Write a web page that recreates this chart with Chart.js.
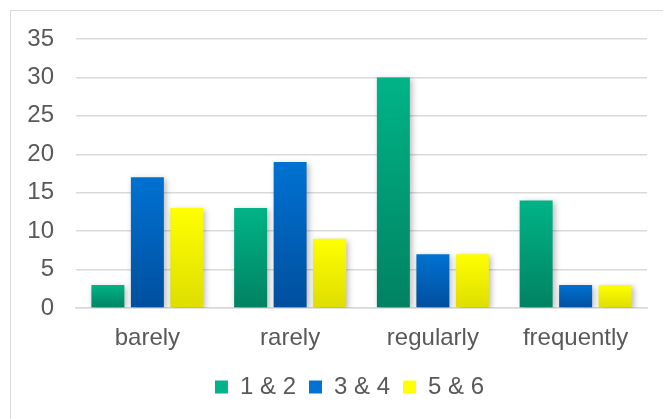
<!DOCTYPE html>
<html>
<head>
<meta charset="UTF-8">
<script src="https://cdn.jsdelivr.net/npm/chart.js@4"></script>
<style>
  html, body { margin: 0; padding: 0; background: #fff; overflow: hidden; }
  .frame { position: absolute; left: 10px; top: 10px; width: 700px; height: 500px; border: 1.5px solid #d9d9d9; }
  .wrap { position: absolute; left: 0; top: 0; width: 663px; height: 419px; }
</style>
</head>
<body>
<div class="frame"></div>
<div class="wrap"><canvas id="chart"></canvas></div>
<script>
// データ
const categories = ["barely", "rarely", "regularly", "frequently"];
const seriesNames = ["1 & 2", "3 & 4", "5 & 6"];
const values12 = [3, 13, 30, 14];
const values34 = [17, 19, 7, 3];
const values56 = [13, 9, 7, 3];
const yTicks = [0, 5, 10, 15, 20, 25, 30, 35];

// 色（上→下のグラデーション）
const colorPairs = [
  ["#00b487", "#008262"],
  ["#0072d2", "#004f9e"],
  ["#ffff00", "#dede00"],
];

function barGradient(pair) {
  return function (context) {
    const chart = context.chart;
    const y = chart.scales.y;
    if (!chart.chartArea || !y || context.raw === undefined) return pair[0];
    const top = y.getPixelForValue(context.raw);
    const bottom = y.getPixelForValue(0);
    const g = chart.ctx.createLinearGradient(0, top, 0, bottom);
    g.addColorStop(0, pair[0]);
    g.addColorStop(1, pair[1]);
    return g;
  };
}

const allValues = [values12, values34, values56];
const datasets = seriesNames.map((name, i) => ({
  label: name,
  data: allValues[i],
  backgroundColor: barGradient(colorPairs[i]),
  borderWidth: 0,
  categoryPercentage: 0.83,
  barPercentage: 0.835,
}));

// 棒の影
const shadowPlugin = {
  id: "barShadow",
  beforeDatasetsDraw(chart) {
    const ctx = chart.ctx;
    ctx.save();
    ctx.shadowColor = "rgba(0,0,0,0.28)";
    ctx.shadowBlur = 6;
    ctx.shadowOffsetX = 2;
    ctx.shadowOffsetY = 2;
  },
  afterDatasetsDraw(chart) {
    chart.ctx.restore();
  },
};

// 凡例を少し右へ寄せる
const legendShift = {
  id: "legendShift",
  afterLayout(chart) {
    if (chart.legend) {
      chart.legend.left += 26;
      chart.legend.right += 26;
    }
  },
};

const font = { family: "'Liberation Sans', Arial, sans-serif", size: 24 };

new Chart(document.getElementById("chart"), {
  type: "bar",
  data: { labels: categories, datasets: datasets },
  plugins: [shadowPlugin, legendShift],
  options: {
    responsive: true,
    maintainAspectRatio: false,
    animation: false,
    layout: { padding: { top: 39, right: 16, left: 0, bottom: 10 } },
    plugins: {
      tooltip: { enabled: false },
      legend: {
        position: "bottom",
        labels: {
          boxWidth: 13,
          boxHeight: 13,
          padding: 13,
          color: "#595959",
          font: font,
          generateLabels(chart) {
            return seriesNames.map((name, i) => ({
              text: name,
              fillStyle: colorPairs[i][0],
              strokeStyle: colorPairs[i][0],
              lineWidth: 0,
              fontColor: "#595959",
              datasetIndex: i,
            }));
          },
        },
      },
    },
    scales: {
      x: {
        grid: { display: false, drawTicks: false },
        border: { color: "#d9d9d9", width: 1.5 },
        ticks: { color: "#595959", font: font, padding: 16 },
        afterFit(scale) { scale.height = 54; },
      },
      y: {
        min: 0,
        max: 35,
        afterBuildTicks(scale) { scale.ticks = yTicks.map(v => ({ value: v })); },
        grid: { color: "#d9d9d9", lineWidth: 1.5, drawTicks: false },
        border: { display: false },
        ticks: { color: "#595959", font: font, padding: 22 },
        afterFit(scale) { scale.width = 76; },
      },
    },
  },
});
</script>
</body>
</html>
